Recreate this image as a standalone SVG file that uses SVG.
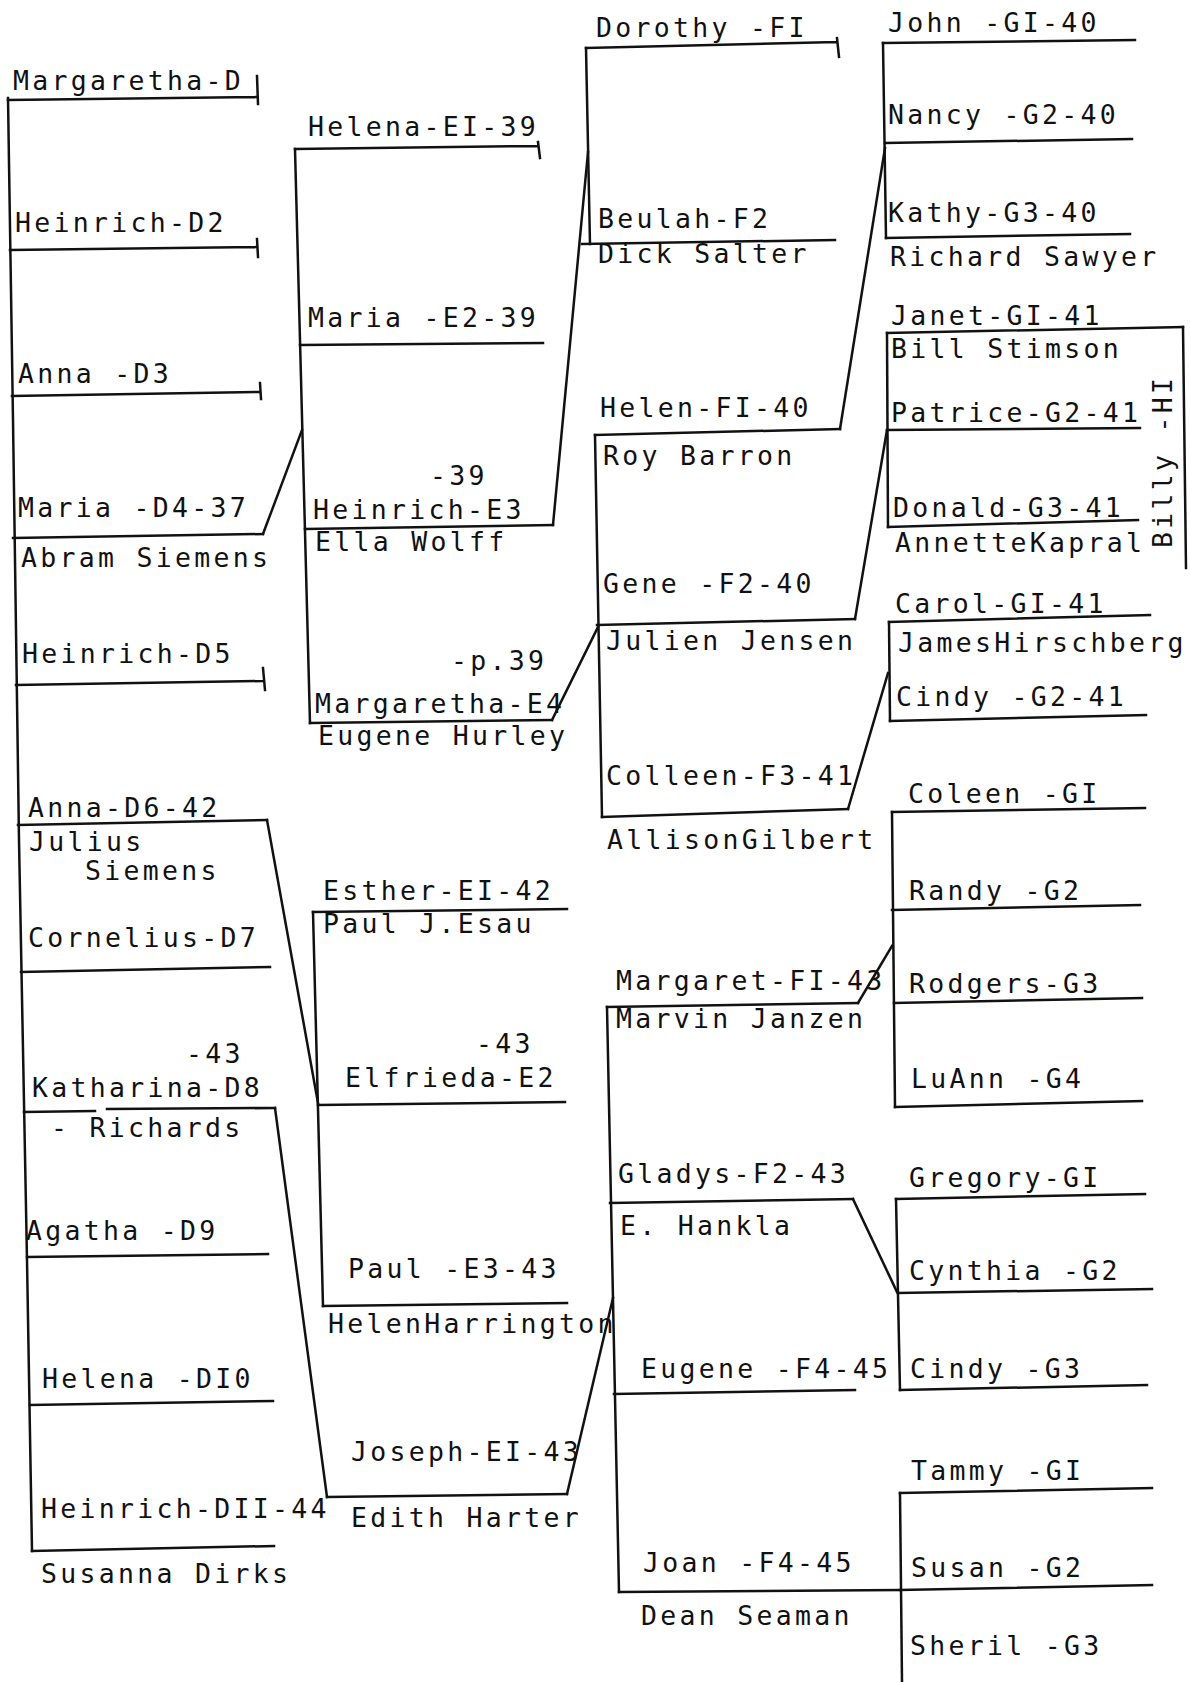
<svg xmlns="http://www.w3.org/2000/svg" width="1190" height="1682" viewBox="0 0 1190 1682">
<style>
.t{font-family:"DejaVu Sans Mono","Liberation Mono",monospace;font-size:26.5px;letter-spacing:3.3px;fill:#111}
.l{stroke:#111;stroke-width:2.5;fill:none;stroke-linecap:square;stroke-linejoin:miter}
</style>
<rect width="1190" height="1682" fill="#fff"/>
<g id="connectors" class="l">
<polyline points="8,98 13,420 19,840 27,1260 32,1551"/>
<line x1="263" y1="534" x2="302" y2="430"/>
<line x1="267" y1="820" x2="318" y2="1103"/>
<line x1="275" y1="1108" x2="327" y2="1497"/>
<line x1="295" y1="149" x2="310" y2="723"/>
<line x1="553" y1="525" x2="588" y2="152"/>
<line x1="552" y1="720" x2="598" y2="627"/>
<line x1="313" y1="912" x2="323" y2="1306"/>
<line x1="567" y1="1494" x2="613" y2="1298"/>
<line x1="586" y1="48" x2="590" y2="244"/>
<line x1="595" y1="435" x2="602" y2="817"/>
<line x1="840" y1="429" x2="885" y2="148"/>
<line x1="855" y1="619" x2="887" y2="430"/>
<line x1="848" y1="809" x2="888" y2="673"/>
<line x1="607" y1="1007" x2="619" y2="1592"/>
<line x1="858" y1="1003" x2="892" y2="946"/>
<line x1="853" y1="1199" x2="897" y2="1292"/>
<line x1="883" y1="43" x2="886" y2="238"/>
<line x1="887" y1="333" x2="888" y2="527"/>
<line x1="1183" y1="327" x2="1186" y2="568"/>
<line x1="889" y1="622" x2="890" y2="721"/>
<line x1="892" y1="812" x2="895" y2="1107"/>
<line x1="896" y1="1199" x2="900" y2="1390"/>
<line x1="900" y1="1493" x2="902" y2="1682"/>
</g>
<g id="n-d1"><text class="t" x="13" y="90">Margaretha-D</text><path class="l" d="M8,100 L257,97 M257,76 L258,104"/></g>
<g id="n-d2"><text class="t" x="15" y="232">Heinrich-D2</text><path class="l" d="M10,250 L257,247 M257,239 L258,257"/></g>
<g id="n-d3"><text class="t" x="18" y="383">Anna -D3</text><path class="l" d="M12,396 L260,392 M260,383 L261,399"/></g>
<g id="n-d4"><text class="t" x="18" y="517">Maria -D4-37</text><text class="t" x="21" y="567">Abram Siemens</text><path class="l" d="M13,538 L263,534"/></g>
<g id="n-d5"><text class="t" x="22" y="663">Heinrich-D5</text><path class="l" d="M16,685 L263,681 M263,668 L265,690"/></g>
<g id="n-d6"><text class="t" x="28" y="817">Anna-D6-42</text><text class="t" x="29" y="851">Julius</text><text class="t" x="85" y="880">Siemens</text><path class="l" d="M18,825 L267,820"/></g>
<g id="n-d7"><text class="t" x="28" y="947">Cornelius-D7</text><path class="l" d="M21,972 L270,967"/></g>
<g id="n-d8"><text class="t" x="186" y="1063">-43</text><text class="t" x="32" y="1097">Katharina-D8</text><text class="t" x="51" y="1137">- Richards</text><path class="l" d="M24,1112 L95,1111 M107,1109 L275,1108"/></g>
<g id="n-d9"><text class="t" x="26" y="1240">Agatha -D9</text><path class="l" d="M27,1257 L268,1254"/></g>
<g id="n-d10"><text class="t" x="42" y="1388">Helena -DI0</text><path class="l" d="M30,1405 L273,1401"/></g>
<g id="n-d11"><text class="t" x="41" y="1518">Heinrich-DII-44</text><text class="t" x="41" y="1583">Susanna Dirks</text><path class="l" d="M32,1551 L274,1546"/></g>
<g id="n-e1a"><text class="t" x="308" y="136">Helena-EI-39</text><path class="l" d="M295,149 L538,146 M538,142 L540,158"/></g>
<g id="n-e2a"><text class="t" x="308" y="327">Maria -E2-39</text><path class="l" d="M300,345 L543,343"/></g>
<g id="n-e3a"><text class="t" x="430" y="485">-39</text><text class="t" x="313" y="519">Heinrich-E3</text><text class="t" x="315" y="551">Ella Wolff</text><path class="l" d="M305,529 L553,525"/></g>
<g id="n-e4a"><text class="t" x="451" y="670">-p.39</text><text class="t" x="315" y="713">Margaretha-E4</text><text class="t" x="318" y="745">Eugene Hurley</text><path class="l" d="M310,723 L552,720"/></g>
<g id="n-e1b"><text class="t" x="323" y="900">Esther-EI-42</text><text class="t" x="323" y="933">Paul J.Esau</text><path class="l" d="M313,912 L567,909"/></g>
<g id="n-e2b"><text class="t" x="476" y="1053">-43</text><text class="t" x="345" y="1087">Elfrieda-E2</text><path class="l" d="M318,1105 L565,1102"/></g>
<g id="n-e3b"><text class="t" x="348" y="1278">Paul -E3-43</text><text class="t" x="328" y="1333">HelenHarrington</text><path class="l" d="M323,1306 L567,1303"/></g>
<g id="n-e1c"><text class="t" x="351" y="1461">Joseph-EI-43</text><text class="t" x="351" y="1527">Edith Harter</text><path class="l" d="M327,1497 L567,1494"/></g>
<g id="n-f1a"><text class="t" x="596" y="37">Dorothy -FI</text><path class="l" d="M586,48 L837,42 M837,38 L839,57"/></g>
<g id="n-f2a"><text class="t" x="598" y="228">Beulah-F2</text><text class="t" x="598" y="263">Dick Salter</text><path class="l" d="M582,244 L835,240"/></g>
<g id="n-f1b"><text class="t" x="600" y="417">Helen-FI-40</text><text class="t" x="603" y="465">Roy Barron</text><path class="l" d="M595,435 L840,429"/></g>
<g id="n-f2b"><text class="t" x="603" y="593">Gene -F2-40</text><text class="t" x="606" y="650">Julien Jensen</text><path class="l" d="M597,625 L855,619"/></g>
<g id="n-f3b"><text class="t" x="606" y="785">Colleen-F3-41</text><text class="t" x="607" y="849">AllisonGilbert</text><path class="l" d="M602,817 L848,809"/></g>
<g id="n-f1c"><text class="t" x="616" y="990">Margaret-FI-43</text><text class="t" x="616" y="1028">Marvin Janzen</text><path class="l" d="M607,1007 L858,1003"/></g>
<g id="n-f2c"><text class="t" x="618" y="1183">Gladys-F2-43</text><text class="t" x="620" y="1235">E. Hankla</text><path class="l" d="M610,1203 L853,1199"/></g>
<g id="n-f4c"><text class="t" x="641" y="1378">Eugene -F4-45</text><path class="l" d="M614,1394 L855,1390"/></g>
<g id="n-f4d"><text class="t" x="643" y="1572">Joan -F4-45</text><text class="t" x="641" y="1625">Dean Seaman</text><path class="l" d="M619,1592 L900,1590"/></g>
<g id="n-g1a"><text class="t" x="888" y="32">John -GI-40</text><path class="l" d="M883,43 L1135,40"/></g>
<g id="n-g2a"><text class="t" x="888" y="124">Nancy -G2-40</text><path class="l" d="M885,143 L1132,139"/></g>
<g id="n-g3a"><text class="t" x="888" y="222">Kathy-G3-40</text><text class="t" x="890" y="266">Richard Sawyer</text><path class="l" d="M886,238 L1130,234"/></g>
<g id="n-g1b"><text class="t" x="891" y="325">Janet-GI-41</text><text class="t" x="891" y="358">Bill Stimson</text><path class="l" d="M887,333 L1183,327"/></g>
<g id="n-g2b"><text class="t" x="891" y="422">Patrice-G2-41</text><path class="l" d="M887,430 L1140,428"/></g>
<g id="n-g3b"><text class="t" x="893" y="517">Donald-G3-41</text><text class="t" x="895" y="552">AnnetteKapral</text><path class="l" d="M888,527 L1138,520"/></g>
<g id="n-h1"><text class="t" transform="translate(1172,548) rotate(-90)" x="0" y="0">Billy -HI</text></g>
<g id="n-g1c"><text class="t" x="895" y="613">Carol-GI-41</text><text class="t" x="898" y="652">JamesHirschberg</text><path class="l" d="M889,622 L1150,615"/></g>
<g id="n-g2c"><text class="t" x="896" y="706">Cindy -G2-41</text><path class="l" d="M890,721 L1146,715"/></g>
<g id="n-g1d"><text class="t" x="908" y="803">Coleen -GI</text><path class="l" d="M892,812 L1145,808"/></g>
<g id="n-g2d"><text class="t" x="909" y="900">Randy -G2</text><path class="l" d="M892,910 L1140,905"/></g>
<g id="n-g3d"><text class="t" x="909" y="993">Rodgers-G3</text><path class="l" d="M894,1003 L1142,998"/></g>
<g id="n-g4d"><text class="t" x="911" y="1088">LuAnn -G4</text><path class="l" d="M895,1107 L1142,1101"/></g>
<g id="n-g1e"><text class="t" x="909" y="1187">Gregory-GI</text><path class="l" d="M896,1199 L1145,1194"/></g>
<g id="n-g2e"><text class="t" x="909" y="1280">Cynthia -G2</text><path class="l" d="M898,1293 L1152,1289"/></g>
<g id="n-g3e"><text class="t" x="910" y="1378">Cindy -G3</text><path class="l" d="M900,1390 L1147,1385"/></g>
<g id="n-g1f"><text class="t" x="911" y="1480">Tammy -GI</text><path class="l" d="M900,1493 L1152,1488"/></g>
<g id="n-g2f"><text class="t" x="911" y="1577">Susan -G2</text><path class="l" d="M900,1590 L1152,1585"/></g>
<g id="n-g3f"><text class="t" x="910" y="1655">Sheril -G3</text></g>
</svg>
